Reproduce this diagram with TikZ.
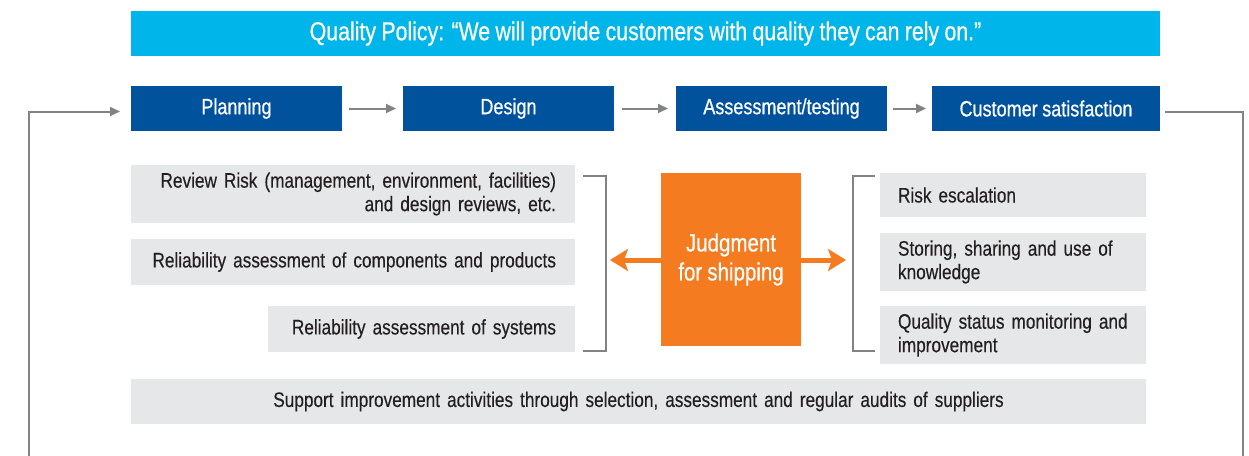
\documentclass[tikz,border=0pt]{standalone}
\usepackage{fontspec}
\setmainfont{Liberation Sans}[FakeStretch=0.82, WordSpace=0.9, FakeBold=0.3]
\newfontfamily\wfont{Liberation Sans}[FakeStretch=0.82, WordSpace=0.9, FakeBold=0.6]
\usetikzlibrary{arrows.meta}
\definecolor{cyanb}{HTML}{00B5EA}
\definecolor{navy}{HTML}{00529C}
\definecolor{greyb}{HTML}{E6E7E8}
\definecolor{orangeb}{HTML}{F47B20}
\definecolor{txt}{HTML}{231F20}
\definecolor{conn}{HTML}{808285}
\tikzset{
  basebox/.style={anchor=north west, inner ysep=0pt, outer sep=0pt, font=\fontsize{21}{23.5}\selectfont},
  bluebox/.style={basebox, fill=navy, text=white, minimum height=45pt, inner xsep=0pt, font=\wfont\fontsize{22}{24}\selectfont},
  greybox/.style={basebox, fill=greyb, text=txt, inner xsep=19pt},
  gline/.style={draw=conn, line width=2pt},
  garrow/.style={gline, -{Triangle[length=10pt,width=9pt]}},
  oarrow/.style={draw=orangeb, line width=5pt, -{Stealth[length=18pt,width=22pt,inset=4pt]}},
}
\begin{document}
\begin{tikzpicture}[x=1pt,y=-1pt]
\useasboundingbox (0,0) rectangle (1249,455);
% banner
\node[bluebox, fill=cyanb, minimum width=1029pt, font=\wfont\fontsize{26}{28}\selectfont] (pol) at (131,11)
  {Quality Policy: “We will provide customers with quality they can rely on.”};
% process boxes
\node[bluebox, minimum width=211pt] (plan) at (131,86) {Planning};
\node[bluebox, minimum width=211pt] (des) at (403,86) {Design};
\node[bluebox, minimum width=211pt] (ass) at (676,86) {Assessment/testing};
\node[bluebox, minimum width=228pt] (cs) at (932,86) {Customer satisfaction};
\draw[garrow, shorten <=7pt, shorten >=7pt] (plan) -- (des);
\draw[garrow, shorten <=8pt, shorten >=8pt] (des) -- (ass);
\draw[garrow, shorten <=6pt, shorten >=6pt] (ass) -- (cs);
% feedback loop
\coordinate (lb) at (29,456);
\coordinate (rb) at (1243,456);
\draw[garrow, shorten >=11pt] (lb) |- ([yshift=-3pt]plan.west);
\draw[gline, shorten <=5pt] ([yshift=-3pt]cs.east) -| (rb);
% left grey boxes
\node[greybox, text width=406pt, align=right, minimum height=58pt] (l1) at (131,165)
  {Review Risk (management, environment, facilities)\\and design reviews, etc.};
\node[greybox, text width=406pt, align=right, minimum height=46pt] (l2) at (131,239)
  {Reliability assessment of components and products};
\node[greybox, text width=269pt, align=right, minimum height=46pt] (l3) at (268,306)
  {Reliability assessment of systems};
% right grey boxes
\node[greybox, text width=230pt, align=left, minimum height=44pt, inner xsep=18pt] (r1) at (880,173)
  {Risk escalation};
\node[greybox, text width=230pt, align=left, minimum height=58pt, inner xsep=18pt] (r2) at (880,233)
  {Storing, sharing and use of\\knowledge};
\node[greybox, text width=230pt, align=left, minimum height=58pt, inner xsep=18pt] (r3) at (880,306)
  {Quality status monitoring and\\improvement};
% bottom box
\node[greybox, text width=977pt, align=center, minimum height=45pt] (bot) at (131,379)
  {Support improvement activities through selection, assessment and regular audits of suppliers};
% brackets
\draw[draw=conn, line width=1.5pt] (583,176) -- (606,176) -- (606,351) -- (583,351);
\draw[draw=conn, line width=1.5pt] (875,176) -- (853,176) -- (853,351) -- (875,351);
% judgment
\node[anchor=north west, fill=orangeb, text=white, minimum width=140pt, minimum height=173pt,
  inner sep=0pt, outer sep=0pt, align=center, font=\wfont\fontsize{25}{29}\selectfont] (jud) at (661,173)
  {Judgment\\for shipping};
\coordinate (la) at (610,260);
\coordinate (ra) at (846,260);
\draw[oarrow] (jud.west |- la) -- (la);
\draw[oarrow] (jud.east |- ra) -- (ra);
\end{tikzpicture}
\end{document}
